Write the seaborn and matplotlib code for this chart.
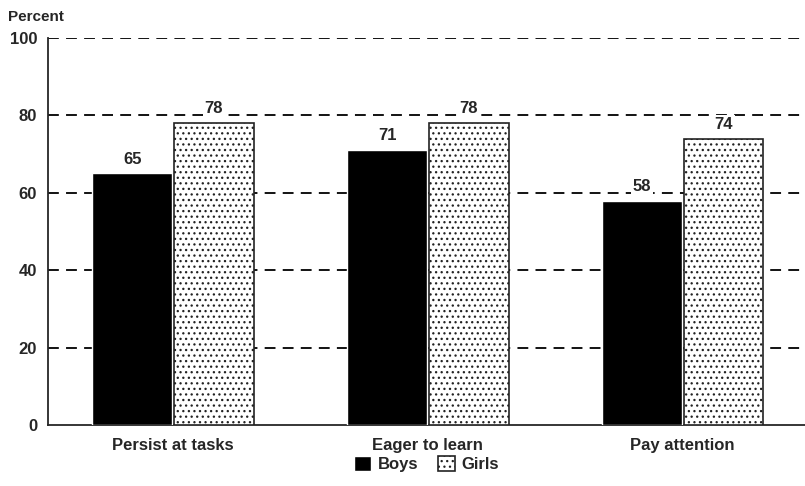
import matplotlib
matplotlib.use("Agg")
import matplotlib.pyplot as plt
import pandas as pd
import seaborn as sns

categories = ["Persist at tasks", "Eager to learn", "Pay attention"]
boys = [65, 71, 58]
girls = [78, 78, 74]
yticks = [0, 20, 40, 60, 80, 100]

sns.set_style("white")
plt.rcParams["font.family"] = ["Liberation Sans Narrow", "Liberation Sans", "DejaVu Sans"]
plt.rcParams["hatch.color"] = "#8a8a8a"
plt.rcParams["hatch.linewidth"] = 0.9

df = pd.DataFrame({
    "category": categories * 2,
    "group": ["Boys"] * 3 + ["Girls"] * 3,
    "pct": boys + girls,
})

fig = plt.figure(figsize=(8.05, 4.86), dpi=100)
ax = fig.add_axes([0.06, 0.125, 0.94, 0.797])

sns.barplot(data=df, x="category", y="pct", hue="group", order=categories,
            hue_order=["Boys", "Girls"],
            palette={"Boys": "black", "Girls": "white"},
            width=0.64, gap=0.02, saturation=1, legend=False, ax=ax, zorder=3)

boys_bars, girls_bars = ax.containers[0], ax.containers[1]
for p in girls_bars:
    p.set_hatch("...")
    p.set_edgecolor("#222222")
    p.set_linewidth(1.2)
for cont in ax.containers:
    labels = ax.bar_label(cont, fmt="%d", padding=5, fontsize=12, fontweight="bold")
    for t in labels:
        t.set_zorder(5)
        t.set_bbox(dict(facecolor="white", edgecolor="none", pad=1.5))

ax.set_ylim(0, 100)
ax.set_xlim(-0.49, 2.48)
ax.set_yticks(yticks)
ax.set_yticklabels([str(t) for t in yticks], fontsize=12, fontweight="bold")
for t in yticks[1:]:
    ax.axhline(t, color="black", lw=1.3, ls=(0, (6, 4)), zorder=1)
ax.set_xlabel("")
ax.set_ylabel("")
ax.tick_params(axis="x", labelsize=12, length=0, pad=9)
ax.tick_params(axis="y", length=0, pad=8)
for lbl in ax.get_xticklabels():
    lbl.set_fontweight("bold")

sns.despine(ax=ax, top=True, right=True)
ax.spines["left"].set_linewidth(1.3)
ax.spines["bottom"].set_linewidth(1.3)

fig.text(0.01, 0.965, "Percent", fontsize=11, fontweight="bold", va="center")

handles = [boys_bars[0], girls_bars[0]]
fig.legend(handles, ["Boys", "Girls"], loc="center", bbox_to_anchor=(0.53, 0.045),
           ncol=2, frameon=False, handlelength=1.0, handleheight=1.0,
           handletextpad=0.4, columnspacing=1.2,
           prop={"size": 12, "weight": "bold"})

fig.savefig("out.png", dpi=100)
